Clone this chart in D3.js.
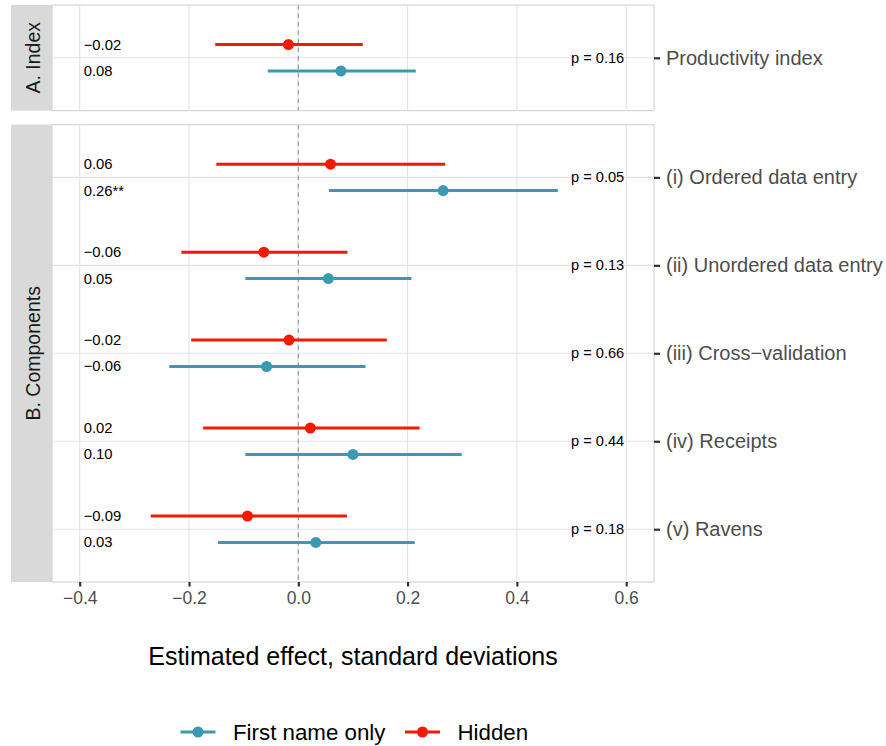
<!DOCTYPE html>
<html>
<head>
<meta charset="utf-8">
<script src="https://cdn.jsdelivr.net/npm/d3@7"></script>
<style>
  html, body { margin: 0; padding: 0; background: #fff; }
  svg { display: block; font-family: "Liberation Sans", Arial, sans-serif; }
</style>
</head>
<body>
<svg id="chart" width="886" height="746"></svg>
<script>
// ---- Data ----
const categories = ["Productivity index", "(i) Ordered data entry", "(ii) Unordered data entry",
                    "(iii) Cross\u2212validation", "(iv) Receipts", "(v) Ravens"];
const panelOf = ["A. Index", "B. Components", "B. Components", "B. Components", "B. Components", "B. Components"];
const panelNames = ["A. Index", "B. Components"];

const hiddenEst = [-0.018, 0.059, -0.063, -0.017, 0.022, -0.093];
const hiddenLo  = [-0.152, -0.150, -0.214, -0.196, -0.174, -0.270];
const hiddenHi  = [0.118, 0.269, 0.090, 0.162, 0.222, 0.089];
const hiddenLabels = ["\u22120.02", "0.06", "\u22120.06", "\u22120.02", "0.02", "\u22120.09"];

const firstEst = [0.078, 0.265, 0.055, -0.058, 0.100, 0.032];
const firstLo  = [-0.056, 0.056, -0.097, -0.236, -0.097, -0.147];
const firstHi  = [0.215, 0.475, 0.207, 0.123, 0.299, 0.213];
const firstLabels = ["0.08", "0.26**", "0.05", "\u22120.06", "0.10", "0.03"];

const pLabels = ["p = 0.16", "p = 0.05", "p = 0.13", "p = 0.66", "p = 0.44", "p = 0.18"];

const xTicks = [-0.4, -0.2, 0.0, 0.2, 0.4, 0.6];
const xDomain = [-0.4507, 0.6509];

const seriesNames = ["First name only", "Hidden"];
const seriesColors = ["#3B9AB2", "#F21A00"];

// ---- Layout ----
const svg = d3.select("#chart");
const plotL = 52, plotR = 654;
const stripL = 11;
const panelBoxes = { "A. Index": [5, 110.6], "B. Components": [124.6, 582] };

const x = d3.scaleLinear().domain(xDomain).range([plotL, plotR]);

const gridCol = "#e3e3e3", borderCol = "#d6d6d6";

panelNames.forEach(pn => {
  const [top, bot] = panelBoxes[pn];
  const cats = categories.filter((c, i) => panelOf[i] === pn);
  const y = d3.scalePoint().domain(cats).range([top, bot]).padding(0.6);
  const off = y.step() * 0.15;

  const g = svg.append("g");
  // strip
  g.append("rect").attr("x", stripL).attr("y", top).attr("width", plotL - stripL).attr("height", bot - top)
    .attr("fill", "#d9d9d9");
  g.append("text")
    .attr("transform", `translate(${(stripL + plotL) / 2 + 1},${(top + bot) / 2}) rotate(-90)`)
    .attr("text-anchor", "middle").attr("dominant-baseline", "central")
    .attr("font-size", 19.5).attr("fill", "#1a1a1a").text(pn);

  // grid
  g.selectAll(".vg").data(xTicks).enter().append("line")
    .attr("x1", d => x(d)).attr("x2", d => x(d)).attr("y1", top).attr("y2", bot)
    .attr("stroke", gridCol).attr("stroke-width", 1.1);
  g.selectAll(".hg").data(cats).enter().append("line")
    .attr("x1", plotL).attr("x2", plotR).attr("y1", d => y(d)).attr("y2", d => y(d))
    .attr("stroke", gridCol).attr("stroke-width", 1.1);

  // zero line
  g.append("line").attr("x1", x(0)).attr("x2", x(0)).attr("y1", top).attr("y2", bot)
    .attr("stroke", "#a0a0a0").attr("stroke-width", 1.3).attr("stroke-dasharray", "4.5,4");

  // border
  g.append("rect").attr("x", plotL).attr("y", top).attr("width", plotR - plotL).attr("height", bot - top)
    .attr("fill", "none").attr("stroke", borderCol).attr("stroke-width", 1.2);

  // right axis
  const ax = d3.axisRight(y).tickSize(6).tickPadding(6);
  const axg = g.append("g").attr("transform", `translate(${plotR},0)`).call(ax);
  axg.select(".domain").remove();
  axg.selectAll(".tick line").attr("stroke", "#333").attr("stroke-width", 2.2);
  axg.selectAll(".tick text").attr("font-size", 20).attr("fill", "#4d4d4d")
    .attr("font-family", "Liberation Sans, Arial, sans-serif");

  // data rows
  categories.forEach((c, i) => {
    if (panelOf[i] !== pn) return;
    const yc = y(c);
    const rows = [
      { est: hiddenEst[i], lo: hiddenLo[i], hi: hiddenHi[i], lab: hiddenLabels[i], col: seriesColors[1], yy: yc - off },
      { est: firstEst[i], lo: firstLo[i], hi: firstHi[i], lab: firstLabels[i], col: seriesColors[0], yy: yc + off }
    ];
    rows.forEach(r => {
      g.append("line").attr("x1", x(r.lo)).attr("x2", x(r.hi)).attr("y1", r.yy).attr("y2", r.yy)
        .attr("stroke", r.col).attr("stroke-width", 3);
      g.append("circle").attr("cx", x(r.est)).attr("cy", r.yy).attr("r", 5.5).attr("fill", r.col);
      g.append("text").attr("x", x(-0.4) + 4).attr("y", r.yy).attr("dominant-baseline", "central")
        .attr("font-size", 14.8).attr("fill", "#000").text(r.lab);
    });
    g.append("text").attr("x", x(0.6) - 2).attr("y", yc).attr("text-anchor", "end")
      .attr("dominant-baseline", "central").attr("font-size", 14.6).attr("fill", "#000").text(pLabels[i]);
  });
});

// x axis
const xa = d3.axisBottom(x).tickValues(xTicks).tickSize(4.5).tickPadding(5.5)
  .tickFormat(d => d3.format(".1f")(d).replace("-", "\u2212"));
const xg = svg.append("g").attr("transform", `translate(0,${panelBoxes["B. Components"][1]})`).call(xa);
xg.select(".domain").remove();
xg.selectAll(".tick line").attr("stroke", "#333").attr("stroke-width", 2.2);
xg.selectAll(".tick text").attr("font-size", 17.5).attr("fill", "#4d4d4d")
  .attr("font-family", "Liberation Sans, Arial, sans-serif");

// x title
svg.append("text").attr("x", (plotL + plotR) / 2).attr("y", 656).attr("text-anchor", "middle")
  .attr("dominant-baseline", "central").attr("font-size", 25).attr("fill", "#000")
  .text("Estimated effect, standard deviations");

// legend
const legend = svg.append("g").attr("transform", "translate(0,732)");
const legItems = [{ name: seriesNames[0], col: seriesColors[0], x0: 180.5 }, { name: seriesNames[1], col: seriesColors[1], x0: 405 }];
legItems.forEach(it => {
  legend.append("line").attr("x1", it.x0).attr("x2", it.x0 + 35).attr("y1", 0).attr("y2", 0)
    .attr("stroke", it.col).attr("stroke-width", 3);
  legend.append("circle").attr("cx", it.x0 + 17.5).attr("cy", 0).attr("r", 5.5).attr("fill", it.col);
  legend.append("text").attr("x", it.x0 + 52.5).attr("y", 0).attr("dominant-baseline", "central")
    .attr("font-size", 22.3).attr("fill", "#000").text(it.name);
});
</script>
</body>
</html>
